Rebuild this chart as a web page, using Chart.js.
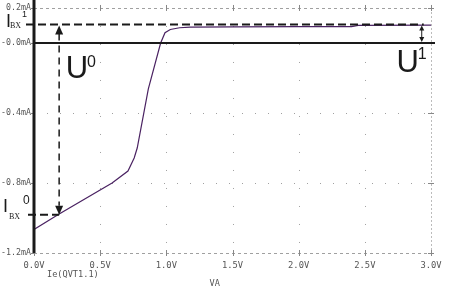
<!DOCTYPE html>
<html>
<head>
<meta charset="utf-8">
<script src="https://cdn.jsdelivr.net/npm/chart.js@4"></script>
<style>
  html, body { margin: 0; padding: 0; background: #fff; }
  canvas { display: block; }
</style>
</head>
<body>
<canvas id="chart" width="454" height="293"></canvas>
<script>
// Data (VA in volts, Ie in mA)
const voltage = [0, 0.19, 0.59, 0.71, 0.757, 0.78, 0.864, 0.957, 0.99, 1.03, 1.10, 1.18, 1.5, 2.0, 2.4, 2.45, 3.0];
const current = [-1.065, -0.977, -0.80, -0.732, -0.657, -0.60, -0.262, 0, 0.059, 0.077, 0.087, 0.091, 0.092, 0.093, 0.094, 0.101, 0.102];

// Axis ticks and labels
const xTicks = [0, 0.5, 1.0, 1.5, 2.0, 2.5, 3.0];
const xLabels = ['0.0V', '0.5V', '1.0V', '1.5V', '2.0V', '2.5V', '3.0V'];
const yTicks = [-1.2, -0.8, -0.4, 0, 0.2];
const yLabels = ['-1.2mA', '-0.8mA', '-0.4mA', '-0.0mA', '0.2mA'];

// Annotation values
const ibx1 = 0.106;    // upper dashed level
const ibx0 = -0.981;   // lower dashed level
const uMarkV = 0.19;   // vertical arrow position
const u1MarkV = 2.93;  // small double arrow position

const canvas = document.getElementById('chart');

function arrowHead(ctx, x, y, dir) {
  // dir = -1 points up, 1 points down
  ctx.beginPath();
  ctx.moveTo(x, y);
  ctx.lineTo(x - 4, y - dir * 9);
  ctx.lineTo(x + 4, y - dir * 9);
  ctx.closePath();
  ctx.fill();
}

function smallArrow(ctx, x, y, dir) {
  ctx.beginPath();
  ctx.moveTo(x, y);
  ctx.lineTo(x - 2.5, y - dir * 5);
  ctx.lineTo(x + 2.5, y - dir * 5);
  ctx.closePath();
  ctx.fill();
}

const gridPlugin = {
  id: 'probeGrid',
  beforeDatasetsDraw(chart) {
    const { ctx, chartArea: a, scales: { x, y } } = chart;
    ctx.save();
    ctx.strokeStyle = '#a0a0a0';
    ctx.lineWidth = 1;

    // sparse dotted interior grid
    ctx.setLineDash([1, 17]);
    xTicks.slice(1, -1).forEach(v => {
      const px = Math.round(x.getPixelForValue(v)) + 0.5;
      ctx.beginPath(); ctx.moveTo(px, a.top); ctx.lineTo(px, a.bottom); ctx.stroke();
    });
    ctx.setLineDash([1, 12]);
    yTicks.slice(1, -2).forEach(v => {
      const py = Math.round(y.getPixelForValue(v)) + 0.5;
      ctx.beginPath(); ctx.moveTo(a.left, py); ctx.lineTo(a.right, py); ctx.stroke();
    });

    // dashed frame
    ctx.setLineDash([3, 3]);
    [a.top, a.bottom].forEach(py => {
      ctx.beginPath(); ctx.moveTo(a.left, Math.round(py) + 0.5); ctx.lineTo(a.right + 4, Math.round(py) + 0.5); ctx.stroke();
    });
    ctx.setLineDash([2, 2]);
    ctx.strokeStyle = '#bbbbbb';
    ctx.beginPath(); ctx.moveTo(Math.round(a.right) + 0.5, a.top); ctx.lineTo(Math.round(a.right) + 0.5, a.bottom); ctx.stroke();

    // "+" marks on the frame
    ctx.setLineDash([]);
    ctx.strokeStyle = '#888';
    xTicks.forEach(v => {
      const px = Math.round(x.getPixelForValue(v)) + 0.5;
      [a.top, a.bottom].forEach(py => {
        ctx.beginPath(); ctx.moveTo(px, py - 3); ctx.lineTo(px, py + 3); ctx.stroke();
      });
    });
    yTicks.forEach(v => {
      const py = Math.round(y.getPixelForValue(v)) + 0.5;
      ctx.beginPath(); ctx.moveTo(a.right - 3, py); ctx.lineTo(a.right + 3, py); ctx.stroke();
      ctx.beginPath(); ctx.moveTo(a.left - 3, py); ctx.lineTo(a.left, py); ctx.stroke();
    });
    ctx.restore();
  },
  afterDatasetsDraw(chart) {
    const { ctx, chartArea: a, scales: { x, y } } = chart;
    ctx.save();
    ctx.strokeStyle = '#1a1a1a';
    ctx.fillStyle = '#1a1a1a';

    // y axis and zero line
    ctx.lineWidth = 3;
    ctx.beginPath(); ctx.moveTo(a.left, 0); ctx.lineTo(a.left, a.bottom); ctx.stroke();
    const y0 = y.getPixelForValue(0);
    ctx.lineWidth = 2;
    ctx.beginPath(); ctx.moveTo(a.left, y0); ctx.lineTo(a.right + 4, y0); ctx.stroke();

    // dashed levels
    const yTop = y.getPixelForValue(ibx1);
    const yBot = y.getPixelForValue(ibx0);
    const xm = x.getPixelForValue(uMarkV);
    ctx.setLineDash([8, 4]);
    ctx.beginPath(); ctx.moveTo(a.left - 8, yTop); ctx.lineTo(x.getPixelForValue(u1MarkV) + 2, yTop); ctx.stroke();
    ctx.beginPath(); ctx.moveTo(a.left - 6, yBot); ctx.lineTo(xm, yBot); ctx.stroke();
    ctx.lineWidth = 1.5;
    ctx.setLineDash([7, 5]);
    ctx.beginPath(); ctx.moveTo(xm, yTop + 9); ctx.lineTo(xm, yBot - 9); ctx.stroke();
    ctx.setLineDash([]);
    arrowHead(ctx, xm, yTop + 1, -1);
    arrowHead(ctx, xm, yBot, 1);

    // small double arrow near the right edge
    const xs = x.getPixelForValue(u1MarkV);
    ctx.lineWidth = 1;
    ctx.beginPath(); ctx.moveTo(xs, yTop + 4); ctx.lineTo(xs, y0 - 4); ctx.stroke();
    smallArrow(ctx, xs, yTop + 1, -1);
    smallArrow(ctx, xs, y0 - 1, 1);

    // U labels
    ctx.textBaseline = 'alphabetic';
    ctx.textAlign = 'left';
    ctx.font = '31px "Liberation Sans", Arial, sans-serif';
    ctx.fillText('U', x.getPixelForValue(0.24), y.getPixelForValue(-0.2));
    ctx.fillText('U', x.getPixelForValue(2.74), y.getPixelForValue(-0.167));
    ctx.font = '16px "Liberation Sans", Arial, sans-serif';
    ctx.fillText('0', x.getPixelForValue(0.40), y.getPixelForValue(-0.14));
    ctx.fillText('1', x.getPixelForValue(2.90), y.getPixelForValue(-0.094));

    // I_BX labels
    ctx.font = '18px "Liberation Sans", Arial, sans-serif';
    ctx.fillText('I', 6, yTop + 3);
    ctx.fillText('I', 3, yBot - 3);
    ctx.font = '9px "Liberation Sans", Arial, sans-serif';
    ctx.fillText('1', 22, yTop - 7);
    ctx.font = '12px "Liberation Sans", Arial, sans-serif';
    ctx.fillText('0', 23, yBot - 11);
    ctx.font = '8px "Liberation Serif", serif';
    ctx.fillText('BX', 10, yTop + 4);
    ctx.fillText('BX', 9, yBot + 4);

    // trace name and axis name
    ctx.fillStyle = '#555';
    ctx.font = '8.6px "DejaVu Sans Mono", monospace';
    ctx.textBaseline = 'middle';
    ctx.fillText('Ie(QVT1.1)', 47, 275);
    ctx.textAlign = 'center';
    ctx.fillText('VA', x.getPixelForValue(1.365), 284);
    ctx.restore();
  }
};

new Chart(canvas, {
  type: 'line',
  data: {
    datasets: [{
      label: 'Ie(QVT1.1)',
      data: voltage.map((v, i) => ({ x: v, y: current[i] })),
      borderColor: '#4a2262',
      borderWidth: 1.2,
      pointRadius: 0,
      tension: 0,
      fill: false
    }]
  },
  options: {
    responsive: false,
    animation: false,
    layout: { padding: { top: 5, right: 23, left: 0, bottom: 0 } },
    plugins: { legend: { display: false }, tooltip: { enabled: false } },
    scales: {
      x: {
        type: 'linear',
        min: 0,
        max: 3,
        afterBuildTicks: s => { s.ticks = xTicks.map(v => ({ value: v })); },
        afterFit: s => { s.height = 40; },
        grid: { display: false, drawTicks: false },
        border: { display: false },
        ticks: {
          callback: (v) => xLabels[xTicks.indexOf(v)],
          font: { family: 'DejaVu Sans Mono', size: 8.8 },
          color: '#555',
          padding: 7,
          maxRotation: 0,
          autoSkip: false
        }
      },
      y: {
        type: 'linear',
        min: -1.2,
        max: 0.2,
        afterBuildTicks: s => { s.ticks = yTicks.map(v => ({ value: v })); },
        afterFit: s => { s.width = 34; },
        grid: { display: false, drawTicks: false },
        border: { display: false },
        ticks: {
          callback: (v) => yLabels[yTicks.indexOf(v)],
          font: { family: 'DejaVu Sans Mono', size: 8.3 },
          color: '#555',
          padding: 3,
          autoSkip: false
        }
      }
    }
  },
  plugins: [gridPlugin]
});
</script>
</body>
</html>
